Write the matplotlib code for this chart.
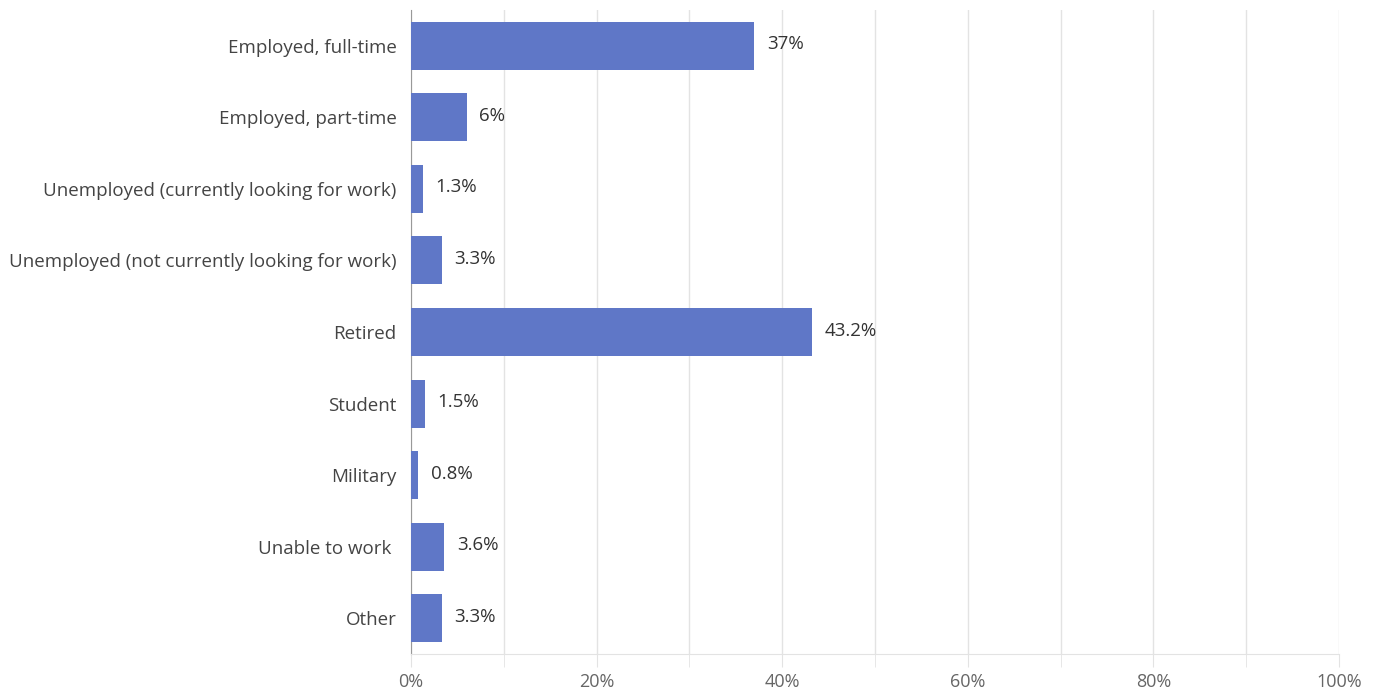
import matplotlib.pyplot as plt
import numpy as np

categories = [
    "Employed, full-time",
    "Employed, part-time",
    "Unemployed (currently looking for work)",
    "Unemployed (not currently looking for work)",
    "Retired",
    "Student",
    "Military",
    "Unable to work ",
    "Other",
]
values = [37, 6, 1.3, 3.3, 43.2, 1.5, 0.8, 3.6, 3.3]
value_labels = ["37%", "6%", "1.3%", "3.3%", "43.2%", "1.5%", "0.8%", "3.6%", "3.3%"]
x_ticks = [0, 20, 40, 60, 80, 100]

plt.rcParams["font.family"] = ["Open Sans", "DejaVu Sans"]

fig = plt.figure(figsize=(13.77, 6.94), dpi=100)
ax = fig.add_axes([411 / 1377, 40 / 694, 928 / 1377, 644 / 694])

y = np.arange(len(categories))
ax.barh(y, values, height=0.67, color="#5f77c7", zorder=3)
for yi, v, lab in zip(y, values, value_labels):
    ax.annotate(lab, (v, yi), xytext=(9, 1), textcoords="offset points",
                ha="left", va="center", fontsize=13.5, color="#333333")

ax.set_xlim(0, 100)
ax.set_ylim(len(categories) - 0.5, -0.5)
ax.set_yticks(y, categories)
ax.set_xticks(x_ticks, [f"{t}%" for t in x_ticks])
ax.set_xticks(np.arange(10, 100, 20), minor=True)
ax.grid(axis="x", which="both", color="#e3e3e3", linewidth=1, zorder=0)
ax.tick_params(axis="y", length=0, pad=10.5, labelsize=13.5, labelcolor="#444444")
ax.tick_params(axis="x", which="both", length=9.5, color="#e3e3e3", pad=4,
               labelsize=13, labelcolor="#666666")
for side in ("top", "right"):
    ax.spines[side].set_visible(False)
ax.spines["left"].set_color("#999999")
ax.spines["bottom"].set_color("#e3e3e3")

fig.savefig("out.png", dpi=100)
